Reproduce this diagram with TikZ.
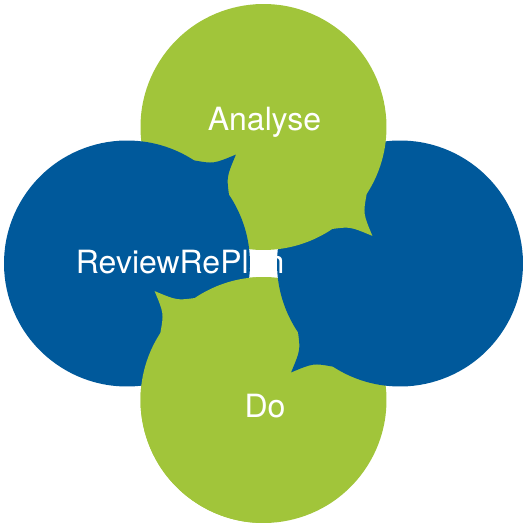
\documentclass[tikz,border=0pt]{standalone}
\usepackage{fontspec}
\setmainfont{TeX Gyre Heros}
\usetikzlibrary{calc}
\definecolor{leafgreen}{RGB}{161,197,58}
\definecolor{cycleblue}{RGB}{0,89,155}
% bubble outline: centre, direction of the tail
\newcommand{\bubble}[2]{($(#1)+(#2+12:123)$) arc[start angle=#2+12,end angle=#2+349,radius=123]
  .. controls ($(#1)+(#2-4:132)$) .. ($(#1)+(#2:154)$)
  .. controls ($(#1)+(#2+4:132)$) .. cycle}

\begin{document}
\begin{tikzpicture}[x=0.5pt,y=0.5pt,
    steplabel/.style={text=white,font=\fontsize{16}{19}\selectfont,inner sep=0pt}]
 \useasboundingbox (0,0) rectangle (526,527);
 \coordinate (analyse) at (263.5,400);
 \coordinate (review) at (127,263.5);
 \coordinate (plan) at (400,263.5);
 \coordinate (do) at (263.5,127);
 \fill[leafgreen] \bubble{do}{135};
 \fill[cycleblue] \bubble{plan}{-135};
 \fill[leafgreen] \bubble{analyse}{-45};
 \fill[cycleblue] \bubble{review}{45};
 \begin{scope}
  \clip (0,0) rectangle (263.5,263.5);
  \fill[leafgreen] \bubble{do}{135};
 \end{scope}
 \node[steplabel,anchor=base] (analysetext) at ($(analyse)+(1,-3)$) {Analyse};
 \node[steplabel,anchor=base west] (reviewtext) at ($(review)+(-51.5,-9.5)$) {ReviewRePlan};
 \node[steplabel,anchor=base] (dotext) at ($(do)+(1.5,-17)$) {Do};
\end{tikzpicture}
\end{document}
